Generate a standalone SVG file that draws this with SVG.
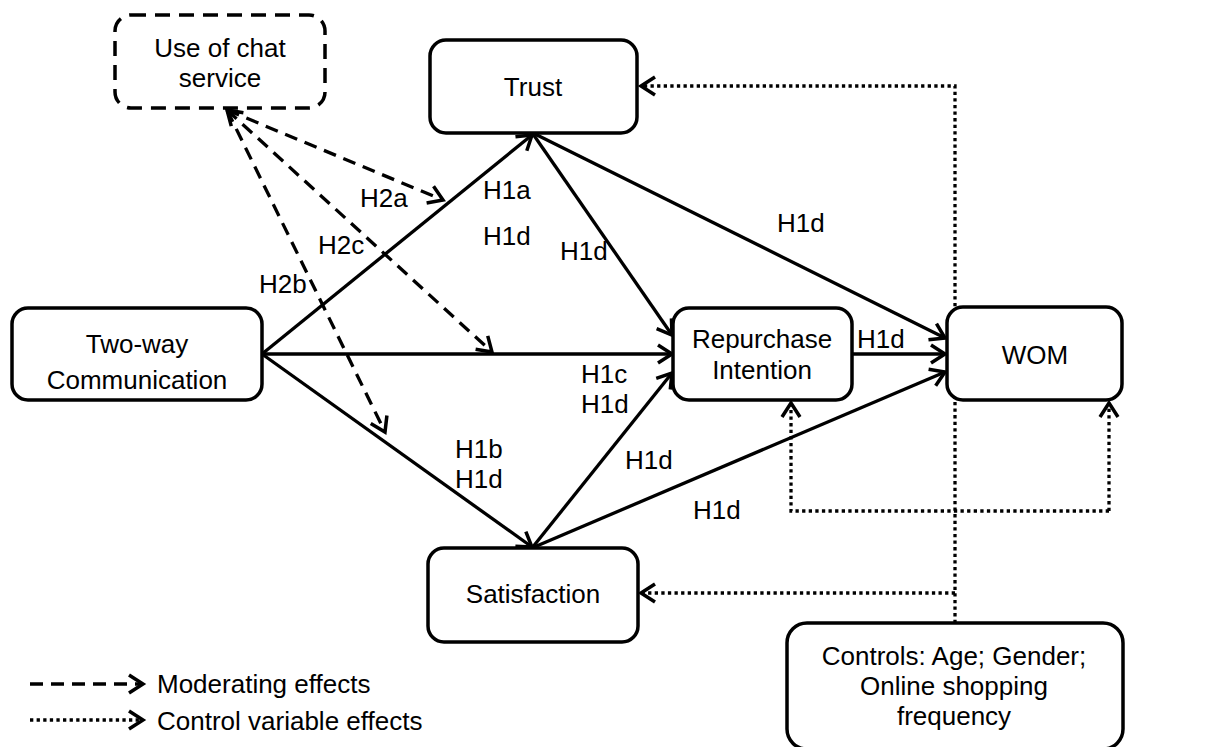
<svg xmlns="http://www.w3.org/2000/svg" width="1211" height="747" viewBox="0 0 1211 747">
<style>
.box{fill:#fff;stroke:#000;stroke-width:3.5}
.dbox{fill:#fff;stroke:#000;stroke-width:3.5;stroke-dasharray:15 9}
.t{font-family:"Liberation Sans",Arial,sans-serif;font-size:26px;fill:#000}
.m{text-anchor:middle}
.solid{fill:none;stroke:#000;stroke-width:3.3;marker-end:url(#ah)}
.dash{fill:none;stroke:#000;stroke-width:3.3;stroke-dasharray:13 8;marker-end:url(#ah)}
.dot{fill:none;stroke:#000;stroke-width:3.3;stroke-dasharray:3.3 3.3;marker-end:url(#ah)}
</style>
<defs>
<marker id="ah" markerUnits="userSpaceOnUse" markerWidth="24" markerHeight="24" viewBox="-19 -12 24 24" refX="0" refY="0" orient="auto">
<path d="M-14,-9 L0,0 L-14,9" fill="none" stroke="#000" stroke-width="3.5"/>
</marker>
<marker id="ahs" markerUnits="userSpaceOnUse" markerWidth="24" markerHeight="24" viewBox="-19 -12 24 24" refX="0" refY="0" orient="auto-start-reverse">
<path d="M-14,-9 L0,0 L-14,9" fill="none" stroke="#000" stroke-width="3.5"/>
</marker>
</defs>

<g id="connectors">
<path class="solid" d="M262,354 L532,135"/>
<path class="solid" d="M262,354 L672,354"/>
<path class="solid" d="M262,354 L532,547"/>
<path class="solid" d="M533,134 L672,335"/>
<path class="solid" d="M532,548 L672,373"/>
<path class="solid" d="M535,134 L945,338"/>
<path class="solid" d="M852,354 L945,354"/>
<path class="solid" d="M532,548 L945,372"/>
<path class="dash" d="M227,110 L443,200"/>
<path class="dash" d="M227,110 L492,352" style="marker-start:url(#ahs)"/>
<path class="dash" d="M227,110 L385,432"/>
<path class="dot" d="M955,623 L955,86 L641,86"/>
<path class="dot" d="M955,593 L641,593"/>
<path class="dot" d="M1109,511 L791,511 L791,403"/>
<path class="dot" d="M1109,511 L1109,403"/>
<path class="dash" d="M30,684 L143,684"/>
<path class="dot" d="M30,720 L143,720"/>
</g>

<g id="labels">
<text class="t" x="360" y="207">H2a</text>
<text class="t" x="483" y="199">H1a</text>
<text class="t" x="483" y="245">H1d</text>
<text class="t" x="318" y="254">H2c</text>
<text class="t" x="259" y="293">H2b</text>
<text class="t" x="560" y="260">H1d</text>
<text class="t" x="777" y="232">H1d</text>
<text class="t" x="857" y="348">H1d</text>
<text class="t" x="581" y="383">H1c</text>
<text class="t" x="581" y="413">H1d</text>
<text class="t" x="455" y="458">H1b</text>
<text class="t" x="455" y="488">H1d</text>
<text class="t" x="625" y="469">H1d</text>
<text class="t" x="693" y="519">H1d</text>
</g>

<g id="chat">
<rect class="dbox" x="115" y="15" width="210" height="93" rx="16"/>
<text class="t m" x="220" y="57">Use of chat</text>
<text class="t m" x="220" y="87">service</text>
</g>
<g id="trust">
<rect class="box" x="430" y="40" width="207" height="93" rx="16"/>
<text class="t m" x="533" y="96">Trust</text>
</g>
<g id="twoway">
<rect class="box" x="12" y="308" width="250" height="92" rx="16"/>
<text class="t m" x="137" y="353">Two-way</text>
<text class="t m" x="137" y="389">Communication</text>
</g>
<g id="repurchase">
<rect class="box" x="673" y="308" width="179" height="92" rx="16"/>
<text class="t m" x="762" y="348">Repurchase</text>
<text class="t m" x="762" y="379">Intention</text>
</g>
<g id="wom">
<rect class="box" x="947" y="307" width="175" height="93" rx="16"/>
<text class="t m" x="1035" y="364">WOM</text>
</g>
<g id="satisfaction">
<rect class="box" x="428" y="548" width="210" height="94" rx="16"/>
<text class="t m" x="533" y="603">Satisfaction</text>
</g>
<g id="controls">
<rect class="box" x="787" y="623" width="336" height="126" rx="20"/>
<text class="t m" x="954" y="665">Controls: Age; Gender;</text>
<text class="t m" x="954" y="695">Online shopping</text>
<text class="t m" x="954" y="725">frequency</text>
</g>

<g id="legend">
<text class="t" x="157" y="693">Moderating effects</text>
<text class="t" x="157" y="730">Control variable effects</text>
</g>
</svg>
